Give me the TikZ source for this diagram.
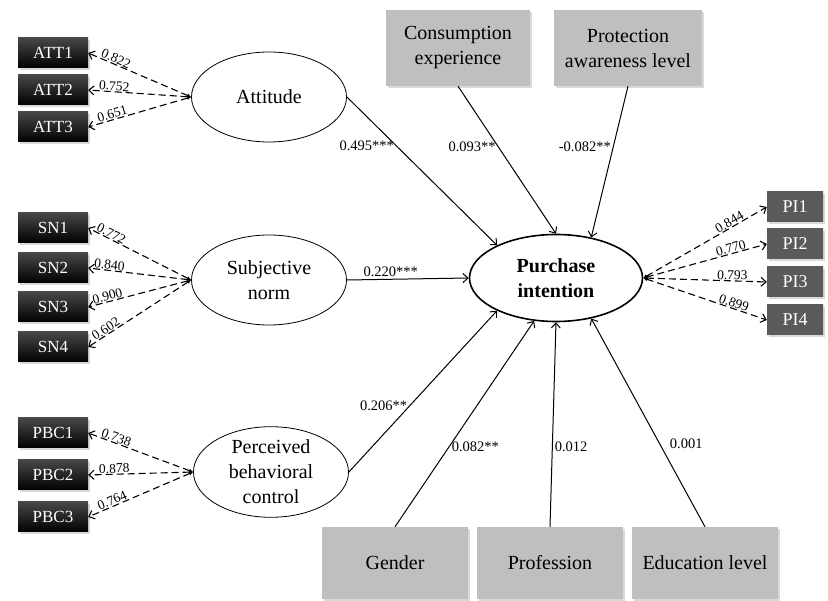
\documentclass[tikz,border=0pt]{standalone}
\usepackage{fontspec}
\setmainfont{Liberation Serif}
\usetikzlibrary{arrows.meta,shapes.geometric,shadows}
\definecolor{lgc}{HTML}{BFBFBF}
\definecolor{dgc}{HTML}{5A5A5A}
\tikzset{
  ar/.style={-{Straight Barb[length=5pt,width=9pt]},line width=1pt},
  ld/.style={{Latex[length=4pt,width=4pt]}-{Straight Barb[length=5pt,width=9pt]},line width=1.1pt,dash pattern=on 7pt off 4pt},
  lv/.style={ellipse,draw,line width=0.8pt,minimum width=155pt,minimum height=90pt,inner sep=0pt,align=center,font=\fontsize{20}{25}\selectfont},
  ctl/.style={fill=lgc,align=center,inner sep=0pt,font=\fontsize{20}{25}\selectfont,drop shadow={shadow xshift=2pt,shadow yshift=-2pt,opacity=0.3}},
  ind/.style={top color=black!72,bottom color=black,text=white,minimum width=70pt,minimum height=30pt,inner sep=0pt,font=\fontsize{17}{20}\selectfont,drop shadow={shadow xshift=2pt,shadow yshift=-2pt,opacity=0.3}},
  pib/.style={ind,top color=dgc,bottom color=dgc,minimum width=56pt,font=\fontsize{18}{20}\selectfont},
  el/.style={font=\fontsize{14.5}{16}\selectfont,inner sep=2pt},
  ll/.style={sloped,above,pos=0.75,font=\fontsize{13.5}{15}\selectfont,inner sep=0.5pt}
}
\begin{document}
\begin{tikzpicture}[x=1pt,y=-1pt]
\useasboundingbox (0,0) rectangle (828,601);
\node[lv] (att) at (269,97) {Attitude};
\node[lv] (sn) at (269,280) {Subjective\\norm};
\node[lv] (pbc) at (271,472) {Perceived\\behavioral\\control};
\node[lv,line width=1.6pt,minimum width=173pt,minimum height=87pt,font=\bfseries\fontsize{20}{25}\selectfont] (pi) at (556,278) {Purchase\\intention};
\node[ctl,minimum width=144pt,minimum height=76pt] (ce) at (458,48) {Consumption\\experience};
\node[ctl,minimum width=148pt,minimum height=76pt] (pal) at (628,48) {Protection\\awareness level};
\node[ctl,minimum width=146pt,minimum height=72pt] (gen) at (395,563) {Gender};
\node[ctl,minimum width=146pt,minimum height=72pt] (prof) at (550,563) {Profession};
\node[ctl,minimum width=146pt,minimum height=72pt] (edu) at (705,563) {Education level};
\foreach \i/\y/\v in {1/53/0.822,2/90/0.752,3/127/0.651}{
  \node[ind] (att\i) at (53,\y) {ATT\i};
  \draw[ld] (att.west) -- node[ll]{\v} (att\i.east);}
\foreach \i/\y/\v in {1/228/0.772,2/268/0.840,3/307/0.900,4/347/0.602}{
  \node[ind] (sn\i) at (53,\y) {SN\i};
  \draw[ld] (sn.west) -- node[ll,pos=0.8]{\v} (sn\i.east);}
\foreach \i/\y/\v in {1/433/0.738,2/475/0.878,3/517/0.764}{
  \node[ind] (pbc\i) at (53,\y) {PBC\i};
  \draw[ld] (pbc.west) -- node[ll]{\v} (pbc\i.east);}
\foreach \i/\y/\v in {1/207/0.844,2/244/0.770,3/282/0.793,4/320/0.899}{
  \node[pib] (pi\i) at (795,\y) {PI\i};
  \draw[ld] (pi.east) -- node[ll,pos=0.72]{\v} (pi\i.west);}
\draw[ar] (att.east) -- node[el,pos=0.33,left]{0.495***} (pi.151);
\draw[ar] (ce.south) -- node[el,pos=0.41,left]{0.093**} (pi.north);
\draw[ar] (pal.south) -- node[el,pos=0.4,left]{-0.082**} (pi.49);
\draw[ar] (sn.east) -- node[el,pos=0.36,above]{0.220***} (pi.west);
\draw[ar] (pbc.east) -- node[el,pos=0.41,left]{0.206**} (pi.209);
\draw[ar] (gen.north) -- node[el,pos=0.39,right]{0.082**} (pi.243);
\draw[ar] (prof.north) -- node[el,pos=0.39,right]{0.012} (pi.south);
\draw[ar] (edu.north) -- node[el,pos=0.4,right,xshift=8pt]{0.001} (pi.311);
\end{tikzpicture}
\end{document}
